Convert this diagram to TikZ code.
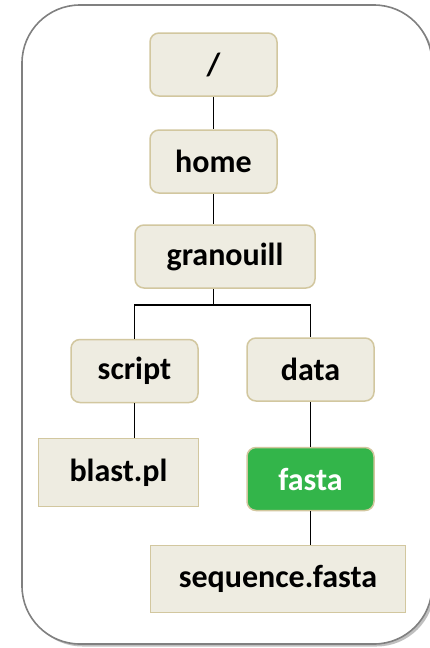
\documentclass[tikz,border=0pt]{standalone}
\usepackage{fontspec}
\setmainfont{Carlito}
\usepackage{xcolor}
\usepackage{tikz}
\usetikzlibrary{positioning, shadows}
\definecolor{boxfill}{HTML}{EEECE1}
\definecolor{boxline}{HTML}{D2C79F}
\definecolor{fastagreen}{HTML}{33B54A}
\definecolor{framegray}{HTML}{808080}

\begin{document}
\begin{tikzpicture}[x=1pt, y=-1pt,
  folder/.style={draw=boxline, fill=boxfill, line width=1.5pt,
    rounded corners=9pt, minimum width=127pt, minimum height=63pt,
    align=center, font=\fontsize{32}{38}\selectfont\bfseries},
  file/.style={folder, rounded corners=0pt},
  link/.style={line width=1.6pt, black},
  frame/.style={draw=framegray, line width=1.6pt, fill=white,
    rounded corners=58pt,
    drop shadow={shadow xshift=2.5pt, shadow yshift=-2.5pt,
      fill=black!50, opacity=.5}}
]
\useasboundingbox (0,0) rectangle (429,648);

% outer panel
\path[frame] (22,5) rectangle (432,644);

% directory tree
\node[folder] (root) at (213.5,64.5) {/};
\node[folder] (home) at (213.5,161.5) {home};
\node[folder, minimum width=180pt] (granouill) at (225,256.5) {granouill};
\node[folder] (script) at (134.5,371) {script};
\node[folder] (data) at (310.5,369.5) {data};
\node[file, minimum width=160pt, minimum height=68pt] (blast) at (118.5,472.5) {blast.pl};
\node[folder, fill=fastagreen, text=white] (fasta) at (310.5,479) {fasta};
\node[file, minimum width=255pt, minimum height=67pt] (seq) at (278,579) {sequence.fasta};

\coordinate (fork) at (213.5,305);

\draw[link] (root) -- (home);
\draw[link] (home) -- (home |- granouill.north);
\draw[link] (granouill.south -| fork) -- (fork);
\draw[link] (script.north) |- (fork) -| (data.north);
\draw[link] (script) -- (script |- blast.north);
\draw[link] (data) -- (fasta);
\draw[link] (fasta) -- (fasta |- seq.north);

\end{tikzpicture}
\end{document}
